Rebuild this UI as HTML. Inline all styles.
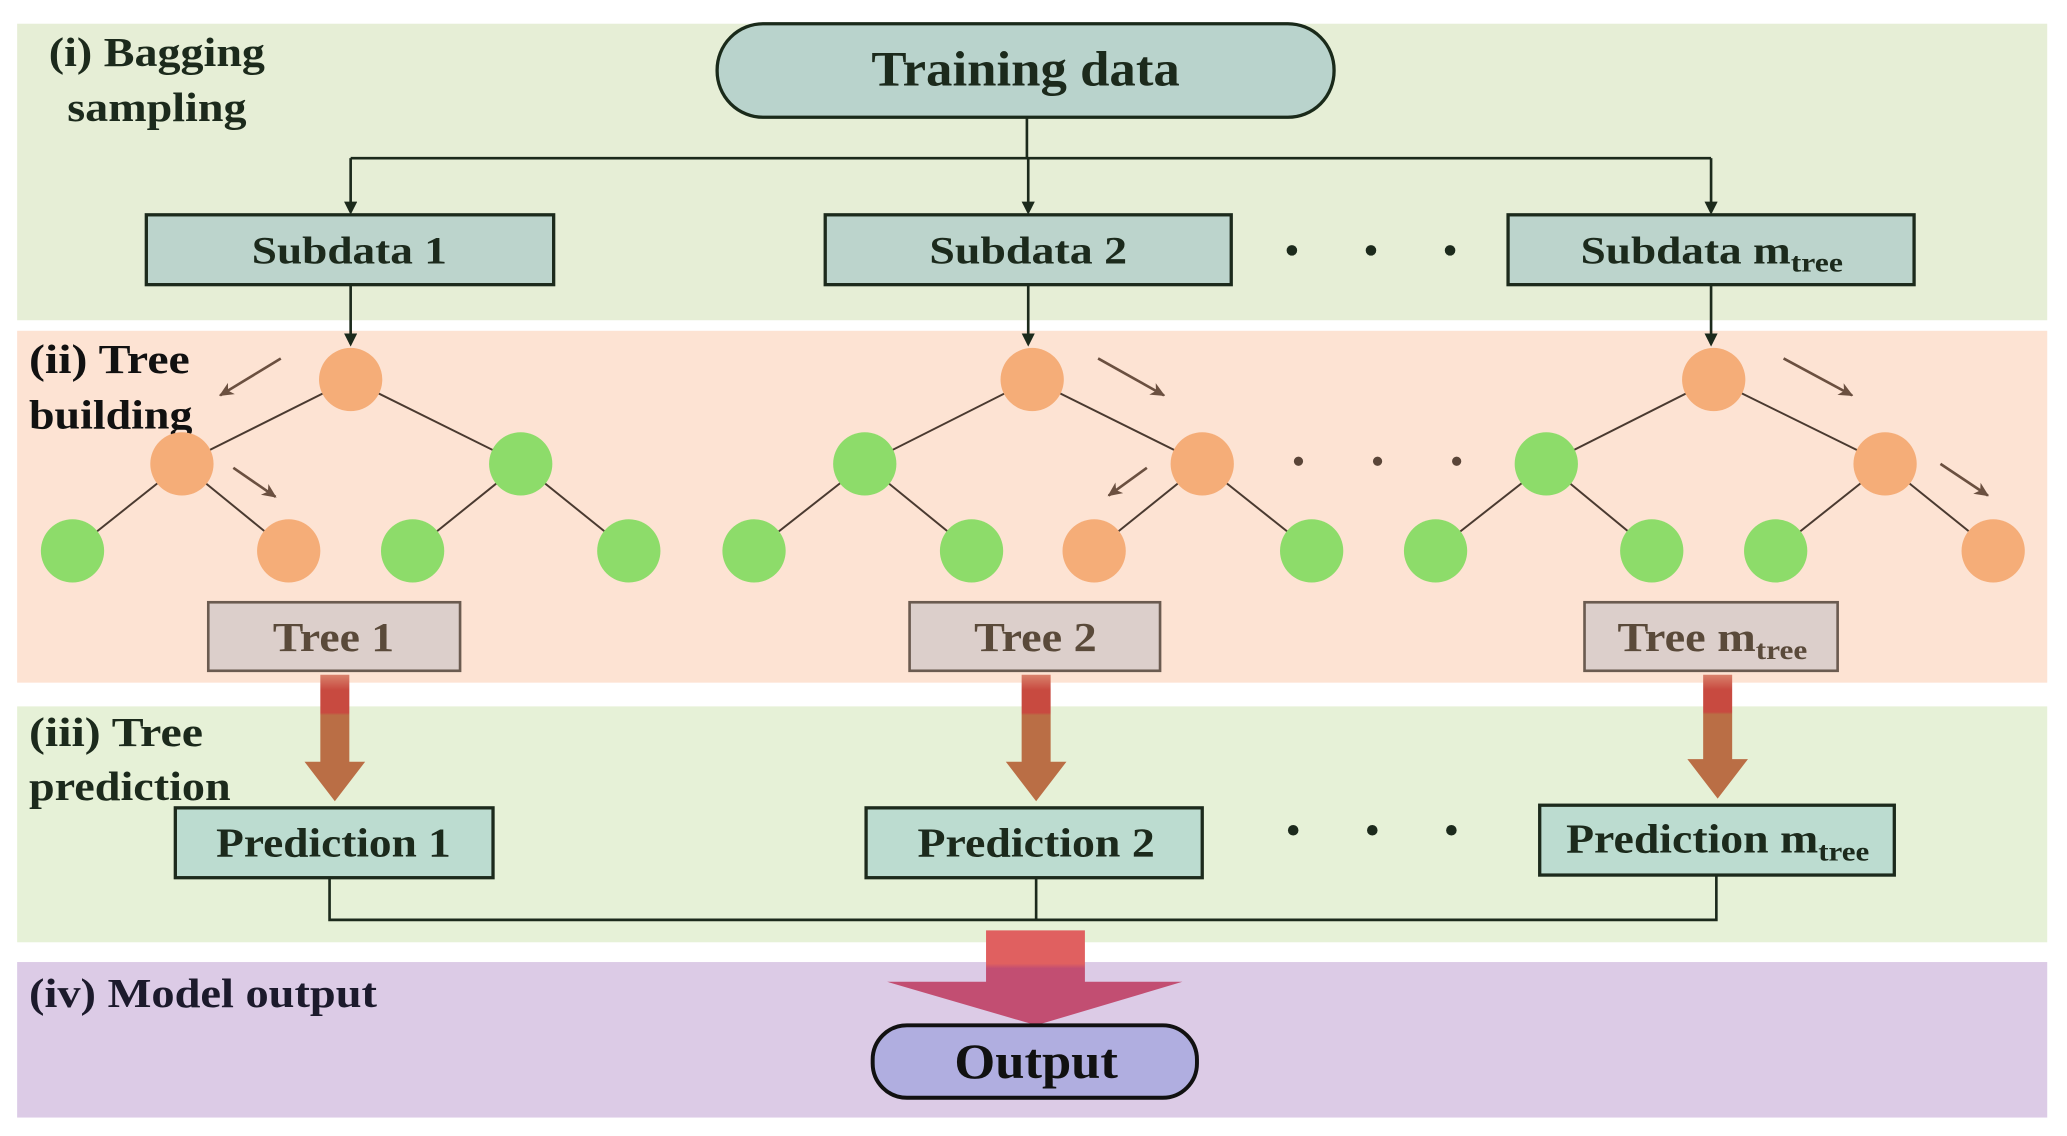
<!DOCTYPE html>
<html><head><meta charset="utf-8"><style>html,body{margin:0;padding:0;background:#fff}svg{display:block}text{font-family:"Liberation Serif",serif;font-weight:bold}</style></head>
<body>
<svg width="2067" height="1136" viewBox="0 0 1568 862" preserveAspectRatio="none" xmlns="http://www.w3.org/2000/svg">
<defs>
<marker id="ah" markerWidth="10" markerHeight="10" refX="8" refY="5" orient="auto" markerUnits="userSpaceOnUse"><path d="M0,0 L10,5 L0,10 Z" fill="#1c2a1c"/></marker>
<marker id="bh" markerWidth="12" markerHeight="12" refX="10" refY="6" orient="auto" markerUnits="userSpaceOnUse"><path d="M0,1 L11,6 L0,11 L3,6 Z" fill="#6b5040"/></marker>
<linearGradient id="ag" x1="0" y1="0" x2="0" y2="1"><stop offset="0" stop-color="#d9826c"/><stop offset="0.12" stop-color="#c84a40"/><stop offset="0.3" stop-color="#c84a40"/><stop offset="0.32" stop-color="#ba6e45"/><stop offset="1" stop-color="#ba6e45"/></linearGradient>
<linearGradient id="bg" x1="0" y1="0" x2="0" y2="1"><stop offset="0" stop-color="#e06060"/><stop offset="0.35" stop-color="#e06060"/><stop offset="0.4" stop-color="#c24e72"/><stop offset="1" stop-color="#c24e72"/></linearGradient>
</defs>
<rect x="13" y="18" width="1540" height="225" fill="#e6eed6"/>
<rect x="13" y="251" width="1540" height="267" fill="#fde3d3"/>
<rect x="13" y="536" width="1540" height="179" fill="#e6f1d7"/>
<rect x="13" y="730" width="1540" height="118" fill="#dccbe6"/>

<g lengthAdjust="spacingAndGlyphs">
<text x="37" y="50" font-size="31" fill="#1c2a1c" textLength="164" lengthAdjust="spacingAndGlyphs">(i) Bagging</text>
<text x="51" y="92" font-size="31" fill="#1c2a1c" textLength="136" lengthAdjust="spacingAndGlyphs">sampling</text>
<text x="22" y="283" font-size="31" fill="#111" textLength="122" lengthAdjust="spacingAndGlyphs">(ii) Tree</text>
<text x="22" y="325" font-size="31" fill="#111" textLength="124" lengthAdjust="spacingAndGlyphs">building</text>
<text x="22" y="566" font-size="31" fill="#1c2a1c" textLength="132" lengthAdjust="spacingAndGlyphs">(iii) Tree</text>
<text x="22" y="607" font-size="31" fill="#1c2a1c" textLength="153" lengthAdjust="spacingAndGlyphs">prediction</text>
<text x="22" y="764" font-size="31" fill="#1c1a2c" textLength="264" lengthAdjust="spacingAndGlyphs">(iv) Model output</text>
</g>

<rect x="544" y="18" width="468" height="71" rx="35" fill="#b9d3cc" stroke="#1a2a1a" stroke-width="2.5"/>
<text x="661" y="65" font-size="38" fill="#1c2a1c" textLength="234" lengthAdjust="spacingAndGlyphs">Training data</text>

<g stroke="#1c2a1c" stroke-width="2" fill="none">
<line x1="779" y1="89" x2="779" y2="120"/>
<line x1="266" y1="120" x2="1298" y2="120"/>
<line x1="266" y1="120" x2="266" y2="161" marker-end="url(#ah)"/>
<line x1="780" y1="120" x2="780" y2="161" marker-end="url(#ah)"/>
<line x1="1298" y1="120" x2="1298" y2="161" marker-end="url(#ah)"/>
<line x1="266" y1="216" x2="266" y2="261" marker-end="url(#ah)"/>
<line x1="780" y1="216" x2="780" y2="261" marker-end="url(#ah)"/>
<line x1="1298" y1="216" x2="1298" y2="261" marker-end="url(#ah)"/>
</g>
<g fill="#bcd4cc" stroke="#1c2a1c" stroke-width="2.5">
<rect x="111" y="163" width="309" height="53"/>
<rect x="626" y="163" width="308" height="53"/>
<rect x="1144" y="163" width="308" height="53"/>
</g>
<g font-size="30" fill="#1c2a1c">
<text x="191" y="200" textLength="148" lengthAdjust="spacingAndGlyphs">Subdata 1</text>
<text x="705" y="200" textLength="150" lengthAdjust="spacingAndGlyphs">Subdata 2</text>
<text x="1199" y="200" textLength="199" lengthAdjust="spacingAndGlyphs">Subdata m<tspan font-size="21" dy="6">tree</tspan></text>
</g>
<g fill="#1c2a1c"><circle cx="980" cy="190" r="4"/><circle cx="1040" cy="190" r="4"/><circle cx="1100" cy="190" r="4"/></g>

<g stroke="#4a3a30" stroke-width="1.5">
<line x1="266" y1="288" x2="138" y2="352"/><line x1="266" y1="288" x2="395" y2="352"/>
<line x1="138" y1="352" x2="55" y2="418"/><line x1="138" y1="352" x2="219" y2="418"/>
<line x1="395" y1="352" x2="313" y2="418"/><line x1="395" y1="352" x2="477" y2="418"/>
<line x1="783" y1="288" x2="656" y2="352"/><line x1="783" y1="288" x2="912" y2="352"/>
<line x1="656" y1="352" x2="572" y2="418"/><line x1="656" y1="352" x2="737" y2="418"/>
<line x1="912" y1="352" x2="830" y2="418"/><line x1="912" y1="352" x2="995" y2="418"/>
<line x1="1300" y1="288" x2="1173" y2="352"/><line x1="1300" y1="288" x2="1430" y2="352"/>
<line x1="1173" y1="352" x2="1089" y2="418"/><line x1="1173" y1="352" x2="1253" y2="418"/>
<line x1="1430" y1="352" x2="1347" y2="418"/><line x1="1430" y1="352" x2="1512" y2="418"/>
</g>
<g fill="#f5ad78">
<circle cx="266" cy="288" r="24"/><circle cx="138" cy="352" r="24"/><circle cx="219" cy="418" r="24"/>
<circle cx="783" cy="288" r="24"/><circle cx="912" cy="352" r="24"/><circle cx="830" cy="418" r="24"/>
<circle cx="1300" cy="288" r="24"/><circle cx="1430" cy="352" r="24"/><circle cx="1512" cy="418" r="24"/>
</g>
<g fill="#8ddc6a">
<circle cx="395" cy="352" r="24"/><circle cx="55" cy="418" r="24"/><circle cx="313" cy="418" r="24"/><circle cx="477" cy="418" r="24"/>
<circle cx="656" cy="352" r="24"/><circle cx="572" cy="418" r="24"/><circle cx="737" cy="418" r="24"/><circle cx="995" cy="418" r="24"/>
<circle cx="1173" cy="352" r="24"/><circle cx="1089" cy="418" r="24"/><circle cx="1253" cy="418" r="24"/><circle cx="1347" cy="418" r="24"/>
</g>
<g stroke="#6b5040" stroke-width="2">
<line x1="213" y1="272" x2="167" y2="300" marker-end="url(#bh)"/>
<line x1="177" y1="355" x2="209" y2="377" marker-end="url(#bh)"/>
<line x1="833" y1="272" x2="883" y2="300" marker-end="url(#bh)"/>
<line x1="870" y1="355" x2="841" y2="376" marker-end="url(#bh)"/>
<line x1="1353" y1="272" x2="1405" y2="300" marker-end="url(#bh)"/>
<line x1="1472" y1="352" x2="1508" y2="376" marker-end="url(#bh)"/>
</g>
<g fill="#5a4538"><circle cx="985" cy="350" r="3.5"/><circle cx="1045" cy="350" r="3.5"/><circle cx="1105" cy="350" r="3.5"/></g>

<g fill="#dccfcb" stroke="#6b5b50" stroke-width="2">
<rect x="158" y="457" width="191" height="52"/>
<rect x="690" y="457" width="190" height="52"/>
<rect x="1202" y="457" width="192" height="52"/>
</g>
<g font-size="31" fill="#5a4a3a">
<text x="207" y="494" textLength="92" lengthAdjust="spacingAndGlyphs">Tree 1</text>
<text x="739" y="494" textLength="93" lengthAdjust="spacingAndGlyphs">Tree 2</text>
<text x="1227" y="494" textLength="144" lengthAdjust="spacingAndGlyphs">Tree m<tspan font-size="21" dy="6">tree</tspan></text>
</g>

<g fill="url(#ag)">
<path d="M243,512 H265 V578 H277 L254,608 L231,578 H243 Z"/>
<path d="M775,512 H797 V578 H809 L786,608 L763,578 H775 Z"/>
<path d="M1292,512 H1314 V576 H1326 L1303,606 L1280,576 H1292 Z"/>
</g>

<g fill="#bcdcd0" stroke="#1c2a1c" stroke-width="2.5">
<rect x="133" y="613" width="241" height="53"/>
<rect x="657" y="613" width="255" height="53"/>
<rect x="1168" y="611" width="269" height="53"/>
</g>
<g font-size="31" fill="#1c2a1c">
<text x="164" y="650" textLength="178" lengthAdjust="spacingAndGlyphs">Prediction 1</text>
<text x="696" y="650" textLength="180" lengthAdjust="spacingAndGlyphs">Prediction 2</text>
<text x="1188" y="647" textLength="230" lengthAdjust="spacingAndGlyphs">Prediction m<tspan font-size="21" dy="6">tree</tspan></text>
</g>
<g fill="#1c2a1c"><circle cx="981" cy="630" r="4"/><circle cx="1041" cy="630" r="4"/><circle cx="1101" cy="630" r="4"/></g>
<g stroke="#1c2a1c" stroke-width="2" fill="none">
<polyline points="250,666 250,698 1302,698 1302,664"/>
<line x1="786" y1="666" x2="786" y2="698"/>
</g>

<path d="M748,706 H823 V745 H897 L786,778 L673,745 H748 Z" fill="url(#bg)"/>

<rect x="662" y="778" width="246" height="55" rx="26" fill="#b0aee0" stroke="#111" stroke-width="3"/>
<text x="724" y="818" font-size="38" fill="#111" textLength="124" lengthAdjust="spacingAndGlyphs">Output</text>
</svg>
</body></html>
